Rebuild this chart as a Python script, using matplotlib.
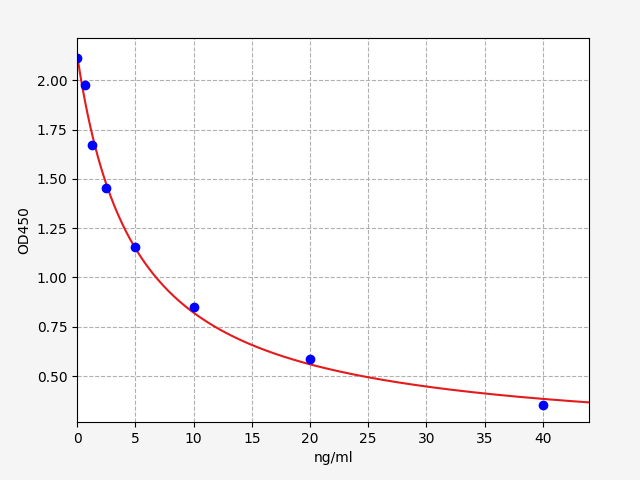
import matplotlib
matplotlib.use("Agg")
import matplotlib.pyplot as plt
import numpy as np

# standard points
conc = [0, 0.625, 1.25, 2.5, 5, 10, 20, 40]
od450 = [2.115, 1.978, 1.672, 1.456, 1.155, 0.848, 0.584, 0.351]

# where the red fitted curve runs
curve_x = [0, 0.5, 1.12, 2.5, 5, 10, 11.4, 15, 20, 40, 44]
curve_y = [2.11, 2.0, 1.706, 1.476, 1.172, 0.82, 0.75, 0.657, 0.564, 0.383, 0.368]


def four_pl(x, a, b, c, d):
    return d + (a - d) / (1.0 + (x / c) ** b)


def fit_4pl(x, y, p0):
    # small Levenberg-Marquardt loop, no scipy needed
    p = np.array(p0, dtype=float)
    lam = 1e-3
    for _ in range(500):
        r = y - four_pl(x, *p)
        J = np.zeros((len(x), len(p)))
        for k in range(len(p)):
            dp = np.zeros_like(p)
            dp[k] = 1e-6 * max(abs(p[k]), 1.0)
            J[:, k] = (four_pl(x, *(p + dp)) - four_pl(x, *(p - dp))) / (2 * dp[k])
        A = J.T @ J
        g = J.T @ r
        step = np.linalg.solve(A + lam * np.diag(np.diag(A)), g)
        p_new = p + step
        if p_new[2] > 0 and p_new[1] > 0 and np.sum((y - four_pl(x, *p_new)) ** 2) < np.sum(r ** 2):
            p = p_new
            lam *= 0.3
        else:
            lam *= 10
    return p


params = fit_4pl(np.array(curve_x), np.array(curve_y), [2.1, 1.0, 5.0, 0.2])

x_fit = np.linspace(0, 44, 400)
y_fit = four_pl(x_fit, *params)

fig = plt.figure(figsize=(6.4, 4.8), dpi=100, facecolor='#f5f5f5')
ax = fig.add_subplot(111)
fig.subplots_adjust(left=77.3 / 640, right=589.3 / 640, top=1 - 38.3 / 480, bottom=1 - 422 / 480)

ax.plot(x_fit, y_fit, color='#e41a1c', linewidth=1.5)
ax.plot(conc, od450, 'o', color='#0000ff', markersize=6)

ax.set_xlim(0, 44)
ax.set_ylim(0.267, 2.213)
ax.set_xlabel('ng/ml')
ax.set_ylabel('OD450')
ax.grid(True, linestyle='--')

fig.savefig('out.png', facecolor=fig.get_facecolor())
